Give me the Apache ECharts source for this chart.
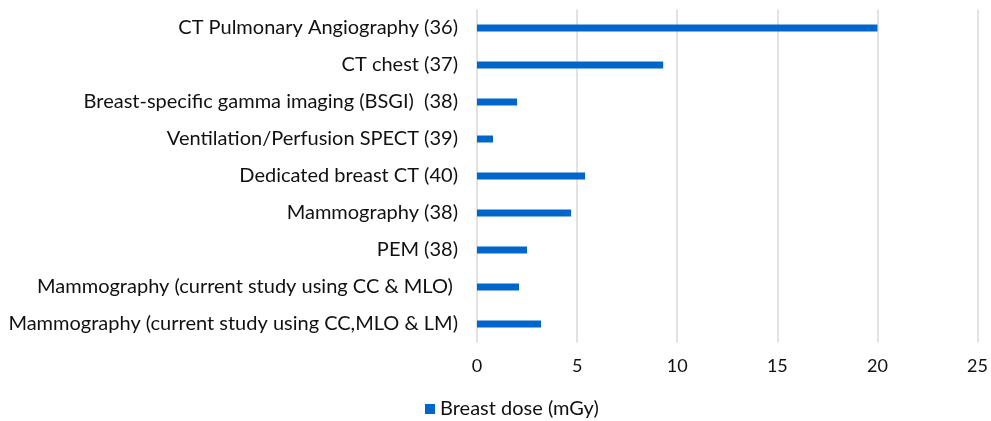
<!DOCTYPE html>
<html>
<head>
<meta charset="utf-8">
<script src="https://cdn.jsdelivr.net/npm/echarts@6/dist/echarts.min.js"></script>
<style>
  html, body { margin: 0; padding: 0; background: #fff; }
  #chart { width: 991px; height: 421px; }
</style>
</head>
<body>
<div id="chart"></div>
<script>
// Imaging procedures, listed top to bottom
const categories = [
  'CT Pulmonary Angiography (36)',
  'CT chest (37)',
  'Breast-specific gamma imaging (BSGI)  (38)',
  'Ventilation/Perfusion SPECT (39)',
  'Dedicated breast CT (40)',
  'Mammography (38)',
  'PEM (38)',
  'Mammography (current study using CC & MLO) ',
  'Mammography (current study using CC,MLO & LM)'
];
// Breast dose in mGy for each procedure
const breastDose = [20, 9.3, 2.0, 0.8, 5.4, 4.7, 2.5, 2.1, 3.2];
const xTicks = { min: 0, max: 25, interval: 5 };
const seriesName = 'Breast dose (mGy)';

const FONT = 'Lato, "Open Sans", sans-serif';
const TEXT = '#111';
const chart = echarts.init(document.getElementById('chart'), null, { renderer: 'canvas' });
chart.setOption({
  animation: false,
  grid: { left: 477, right: 12, top: 9.5, bottom: 78.5, containLabel: false },
  xAxis: {
    type: 'value',
    min: xTicks.min, max: xTicks.max, interval: xTicks.interval,
    axisLine: { show: false },
    axisTick: { show: false },
    axisLabel: { color: TEXT, fontSize: 18, fontFamily: FONT, margin: 15 },
    splitLine: { show: true, lineStyle: { color: '#d9d9d9', width: 1.5 } }
  },
  yAxis: {
    type: 'category',
    inverse: true,
    data: categories,
    axisLine: { show: false },
    axisTick: { show: false },
    axisLabel: { color: TEXT, fontSize: 20, fontFamily: FONT, margin: 19 }
  },
  legend: {
    top: 399, left: 425, padding: 0,
    icon: 'rect', itemWidth: 10, itemHeight: 10, itemGap: 6,
    textStyle: { color: TEXT, fontSize: 20, fontFamily: FONT },
    data: [seriesName]
  },
  series: [{
    name: seriesName,
    type: 'bar',
    data: breastDose,
    barWidth: 7,
    itemStyle: { color: '#0066cc' }
  }]
});
</script>
</body>
</html>
